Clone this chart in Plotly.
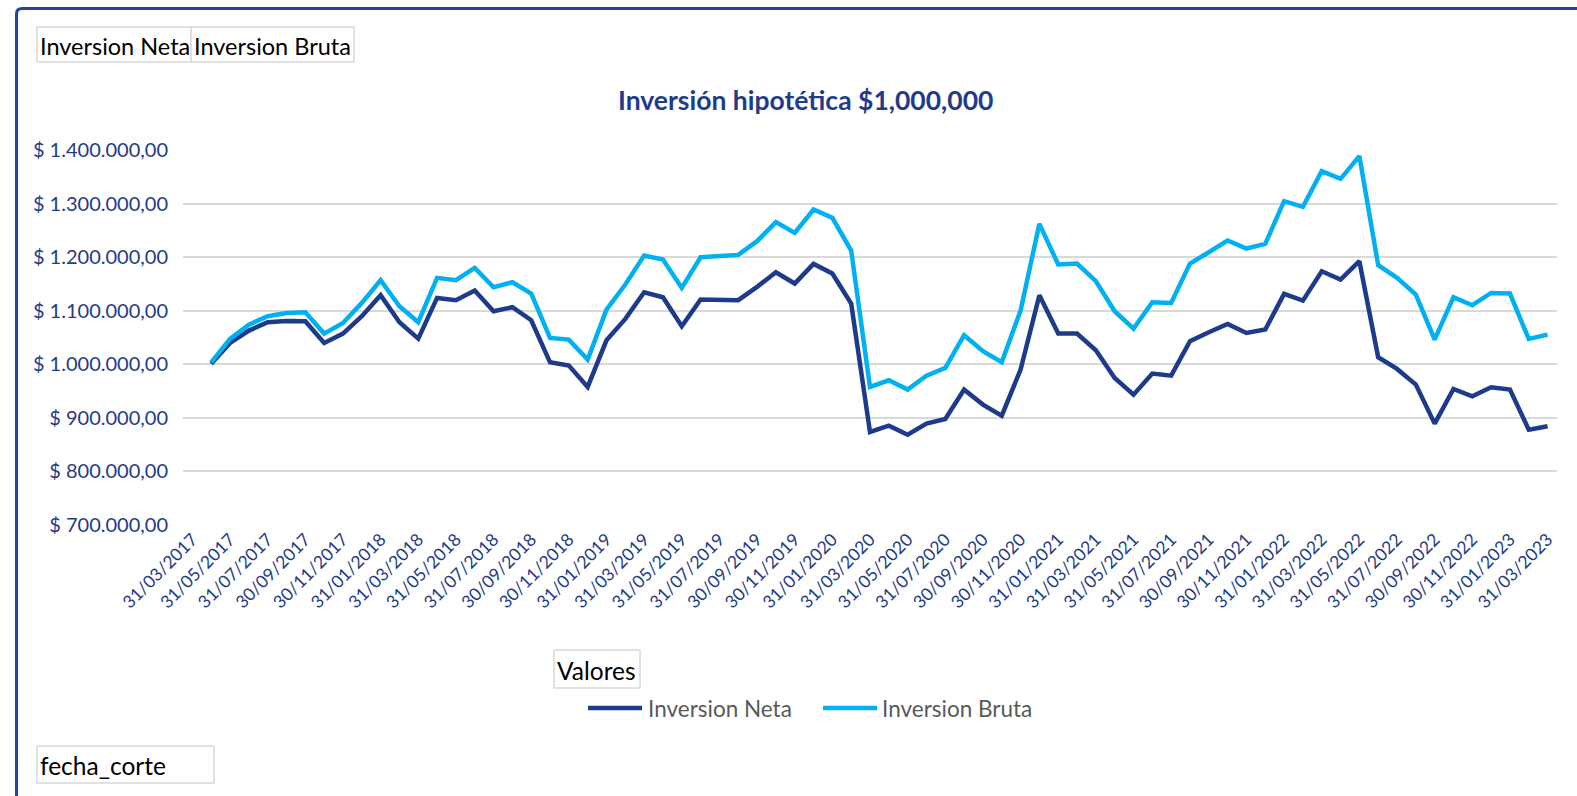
import plotly.graph_objects as go

# ---------------- data ----------------
fechas = []
for yr in range(2017, 2024):
    for d, m in [("31", "01"), ("28", "02"), ("31", "03"), ("30", "04"), ("31", "05"), ("30", "06"),
                 ("31", "07"), ("31", "08"), ("30", "09"), ("31", "10"), ("30", "11"), ("31", "12")]:
        if (yr == 2017 and int(m) < 3) or (yr == 2023 and int(m) > 3):
            continue
        fechas.append(f"{d}/{m}/{yr}")

inversion_neta = [None,
    1001000, 1039800, 1062900, 1078500, 1081000, 1080300, 1039800, 1057300, 1089700, 1128900,
    1078500, 1047900, 1123900, 1119600, 1137600, 1099000, 1106500, 1082200, 1003700, 997500,
    957700, 1044800, 1084700, 1134500, 1125200, 1071000, 1120800, 1120800, 1119600, 1144500,
    1171900, 1150700, 1187400, 1169400, 1113300, 873600, 885400, 868600, 889200, 897900,
    952700, 924700, 904100, 990000, 1128900, 1057300, 1057300, 1026200, 974500, 943300,
    982600, 978800, 1043000, 1059800, 1075300, 1058500, 1064800, 1131400, 1118900, 1173700,
    1158200, 1192400, 1013100, 991300, 962000, 889200, 953900, 940200, 957000, 952700,
    878000, 884200]

inversion_bruta = [None,
    1003500, 1047300, 1074100, 1089700, 1095900, 1097100, 1057300, 1077200, 1114600, 1156900,
    1108300, 1078500, 1161300, 1156900, 1179900, 1143800, 1153200, 1132000, 1049200, 1046100,
    1008700, 1102100, 1148800, 1203000, 1195500, 1142600, 1199900, 1203000, 1204200, 1229800,
    1265300, 1245300, 1288900, 1273400, 1212300, 957700, 970100, 952700, 978800, 993200,
    1054200, 1024300, 1003700, 1100300, 1262200, 1186200, 1188100, 1155100, 1099000, 1066600,
    1115800, 1114600, 1188000, 1209200, 1231000, 1216100, 1224800, 1304500, 1293900, 1360500,
    1346200, 1388500, 1184900, 1161300, 1130100, 1046100, 1125200, 1110200, 1133200, 1132000,
    1047300, 1055400]

x_tickvals = fechas[::2]
y_tickvals = [700000, 800000, 900000, 1000000, 1100000, 1200000, 1300000, 1400000]
y_ticktext = ["$ 700.000,00", "$ 800.000,00", "$ 900.000,00", "$ 1.000.000,00",
              "$ 1.100.000,00", "$ 1.200.000,00", "$ 1.300.000,00", "$ 1.400.000,00"]

titulo = "Inversión hipotética $1,000,000"
nombres = ["Inversion Neta", "Inversion Bruta"]

# ---------------- layout constants ----------------
W, H = 1577, 796
L, R, T, B = 183, 20, 150, 271
PW, PH = W - L - R, H - T - B

def px(x):
    return (x - L) / PW

def py(y):
    return (T + PH - y) / PH

NAVY = "#1E3B8B"
CYAN = "#00B0F0"
TXT = "#1F3C88"
FONT = "Lato"

fig = go.Figure()
fig.add_trace(go.Scatter(x=fechas, y=inversion_neta, mode="lines", name=nombres[0],
                         line=dict(color=NAVY, width=4.5), showlegend=False))
fig.add_trace(go.Scatter(x=fechas, y=inversion_bruta, mode="lines", name=nombres[1],
                         line=dict(color=CYAN, width=4.5), showlegend=False))

shapes = []
annotations = []

# outer frame
shapes.append(dict(type="path", xref="paper", yref="paper",
                   path=f"M {px(16.5)},{py(800)} L {px(16.5)},{py(14)} Q {px(16.5)},{py(8.5)} {px(22)},{py(8.5)} L {px(1580)},{py(8.5)}",
                   line=dict(color="#23469B", width=3)))

# pivot field buttons
def button(x0, y0, x1, y1, text, size=24):
    shapes.append(dict(type="rect", xref="paper", yref="paper",
                       x0=px(x0), x1=px(x1), y0=py(y1), y1=py(y0),
                       line=dict(color="#D9D9D9", width=1.5), fillcolor="white", layer="below"))
    annotations.append(dict(text=text, xref="paper", yref="paper", x=px(x0 + 0.5), y=py((y0 + y1) / 2 + 1),
                            xanchor="left", yanchor="middle", showarrow=False,
                            font=dict(family=FONT, size=size, color="#000000")))

button(37, 27, 191, 62, nombres[0], 23.5)
button(191, 27, 354, 62, nombres[1], 23.5)
button(554, 650, 640, 688, "Valores", 24.5)
button(37, 746, 214, 783, "fecha_corte", 24.5)

# title
annotations.append(dict(text=f"<b>{titulo}</b>", xref="paper", yref="paper", x=px(805), y=py(100),
                        xanchor="center", yanchor="middle", showarrow=False,
                        font=dict(family=FONT, size=26.5, color=TXT)))

# manual legend
for (lx0, lx1, tx, name, col) in [(588, 642, 646, nombres[0], NAVY), (823, 877, 880, nombres[1], CYAN)]:
    shapes.append(dict(type="line", xref="paper", yref="paper", x0=px(lx0), x1=px(lx1),
                       y0=py(708), y1=py(708), line=dict(color=col, width=4.5)))
    annotations.append(dict(text=name, xref="paper", yref="paper", x=px(tx), y=py(708),
                            xanchor="left", yanchor="middle", showarrow=False,
                            font=dict(family=FONT, size=22.5, color="#595959")))

fig.update_layout(
    width=W, height=H, autosize=False,
    margin=dict(l=L, r=R, t=T, b=B, pad=0),
    paper_bgcolor="white", plot_bgcolor="white",
    showlegend=False,
    shapes=shapes, annotations=annotations,
    font=dict(family=FONT, color=TXT),
    xaxis=dict(type="category", categoryorder="array", categoryarray=fechas,
               tickmode="array", tickvals=x_tickvals, ticktext=x_tickvals,
               tickangle=-45, tickfont=dict(family=FONT, size=17.5, color=TXT),
               showgrid=False, zeroline=False, showline=False, ticks="",
               range=[-0.5, len(fechas) - 0.5]),
    yaxis=dict(range=[700000, 1400000], tickmode="array", tickvals=y_tickvals, ticktext=y_ticktext,
               tickfont=dict(family=FONT, size=20, color=TXT),
               showgrid=True, gridcolor="#D9D9D9", gridwidth=1.5,
               zeroline=False, showline=False, ticks="", ticklabelstandoff=14),
)

fig.write_html("out.html", config={"displayModeBar": False},
               post_script="document.body.style.margin='0';")
